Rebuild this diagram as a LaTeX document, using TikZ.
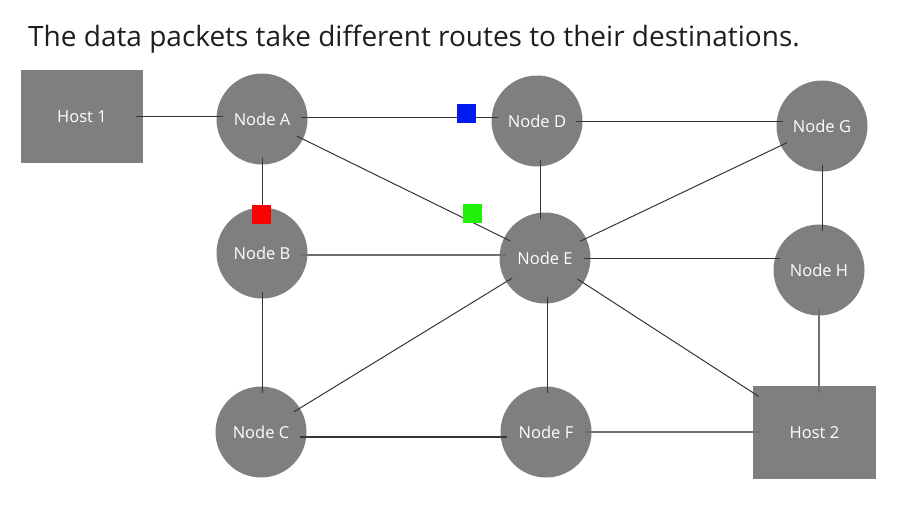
\documentclass[tikz,border=0pt]{standalone}
\usepackage{fontspec}
\setmainfont{Open Sans}
\definecolor{shapegray}{HTML}{7F7F7F}
\definecolor{linedark}{HTML}{353535}
\definecolor{linelight}{HTML}{707070}
\definecolor{titlecol}{HTML}{1E1E1E}
\begin{document}
\begin{tikzpicture}[x=1pt,y=-1pt,
  netnode/.style={circle,fill=shapegray,draw=none,minimum size=91pt,inner sep=0pt,text=white,font=\fontsize{16.5}{19}\selectfont},
  hostbox/.style={rectangle,fill=shapegray,draw=none,minimum width=122pt,minimum height=93pt,inner sep=0pt,text=white,font=\fontsize{16.5}{19}\selectfont},
  link/.style={draw=linedark,line width=1pt,shorten >=-7pt,shorten <=-7pt},
  lightlink/.style={draw=linelight,line width=1.1pt,shorten >=-7pt,shorten <=-7pt},
  packet/.style={rectangle,draw=none,minimum size=19pt,inner sep=0pt}
]
\useasboundingbox (0,0) rectangle (915,528);
\node[anchor=base west,text=titlecol,font=\fontsize{28}{33}\selectfont,inner sep=0pt] (title) at (28,46) {The data packets take different routes to their destinations.};

\node[hostbox] (h1) at (82,116.5) {Host 1};
\node[hostbox,minimum width=123pt] (h2) at (814.5,432.5) {Host 2};
\node[netnode] (a) at (262,119) {Node A};
\node[netnode] (b) at (262,253) {Node B};
\node[netnode] (c) at (261,432) {Node C};
\node[netnode] (d) at (537,121) {Node D};
\node[netnode] (e) at (545,258) {Node E};
\node[netnode] (f) at (546,432) {Node F};
\node[netnode] (g) at (822,126) {Node G};
\node[netnode] (h) at (819,270) {Node H};

\draw[link] (h1.east) -- (a.west |- h1.east);
\draw[link] ([yshift=1.5pt]a.east) -- ([yshift=1.5pt]a.east -| d.west);
\draw[link] (a.south) -- (b.north -| a.south);
\draw[link] (a) -- (e);
\draw[link] (d.east) -- (g.west |- d.east);
\draw[link] ([xshift=3pt]d.south) -- ([xshift=3pt]d.south |- e.north);
\draw[lightlink] ([yshift=-2pt]b.east) -- ([yshift=-2pt]b.east -| e.west);
\draw[link] (b.south) -- (c.north -| b.south);
\draw[link] (e) -- (g);
\draw[link] (e.east) -- (h.west |- e.east);
\draw[link] (g.south) -- (h.north -| g.south);
\draw[link] (e) -- (c);
\draw[link] ([xshift=2pt]e.south) -- ([xshift=2pt]e.south |- f.north);
\draw[link] (e) -- (h2);
\draw[link,line width=1.4pt] ([yshift=-5pt]c.east) -- ([yshift=-5pt]c.east -| f.west);
\draw[lightlink] (f.east) -- (h2.west |- f.east);
\draw[lightlink] (h.south) -- (h2.north -| h.south);

\node[packet,fill=red] (pr) at (261.5,214) {};
\node[packet,fill={rgb,255:red,0;green,26;blue,240}] (pb) at (466,113) {};
\node[packet,fill={rgb,255:red,34;green,240;blue,8}] (pg) at (472,213) {};
\end{tikzpicture}
\end{document}
